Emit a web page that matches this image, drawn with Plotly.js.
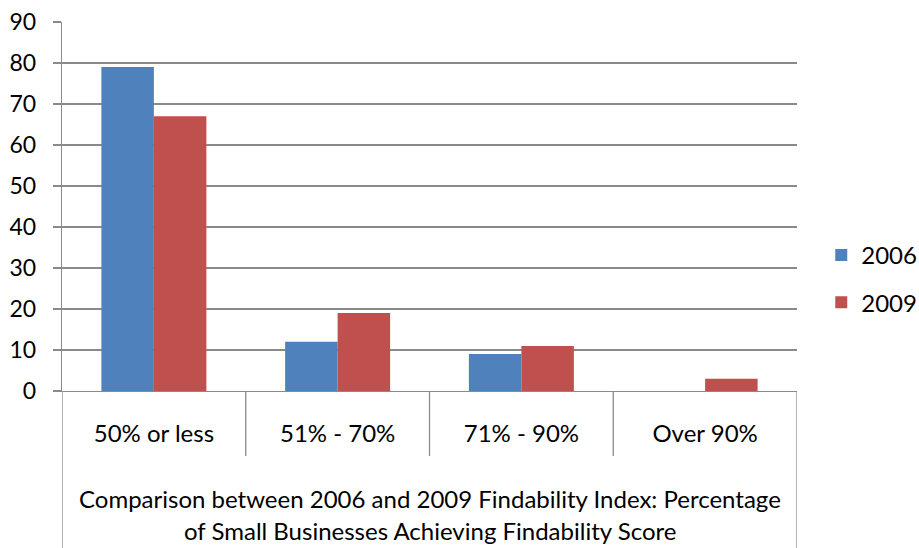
<!DOCTYPE html>
<html>
<head>
<meta charset="utf-8">
<script src="https://cdn.plot.ly/plotly-3.0.1.min.js"></script>
<style>html,body{margin:0;padding:0;background:#fff}#chart{width:919px;height:548px}</style>
</head>
<body>
<div id="chart"></div>
<script>
var categories = ["50% or less", "51% - 70%", "71% - 90%", "Over 90%"];
var seriesNames = ["2006", "2009"];
var values2006 = [79, 12, 9, 0];
var values2009 = [67, 19, 11, 3];
var yTicks = [0, 10, 20, 30, 40, 50, 60, 70, 80, 90];
var groupTitleLine1 = "Comparison between 2006 and 2009 Findability Index: Percentage";
var groupTitleLine2 = "of Small Businesses Achieving Findability Score";

var FONT = "Lato, 'Liberation Sans', sans-serif";
var GRID = "#8a8a8a";

var traces = [
  {type: "bar", name: seriesNames[0], x: categories, y: values2006,
   marker: {color: "#4F81BD"}, legendgroup: "a", hoverinfo: "none"},
  {type: "bar", name: seriesNames[1], x: categories, y: values2009,
   marker: {color: "#C0504D"}, legendgroup: "b", hoverinfo: "none"}
];

var shapes = [];
for (var i = 0; i <= categories.length; i++) {
  var outer = (i === 0 || i === categories.length);
  shapes.push({type: "line", xref: "x", yref: "paper",
    x0: i - 0.5, x1: i - 0.5, y0: 0, y1: outer ? -0.43 : -0.176,
    line: {color: GRID, width: 1.3}});
}

var layout = {
  width: 919, height: 548,
  margin: {l: 62, r: 122, t: 22, b: 157, autoexpand: false},
  paper_bgcolor: "#fff", plot_bgcolor: "#fff",
  font: {family: FONT, size: 24, color: "#000"},
  barmode: "group", bargap: 0.4286, bargroupgap: 0,
  showlegend: true,
  legend: {x: 1.033, xanchor: "left", y: 0.3035, yanchor: "middle",
    font: {family: FONT, size: 24, color: "#000"},
    traceorder: "grouped", tracegroupgap: 13, bgcolor: "rgba(0,0,0,0)"},
  xaxis: {type: "category", showgrid: false, zeroline: false, automargin: false,
    showline: true, linecolor: GRID, linewidth: 1.3,
    ticks: "", ticklabelstandoff: 21,
    tickfont: {family: FONT, size: 24, color: "#000"},
    range: [-0.5, categories.length - 0.5], fixedrange: true},
  yaxis: {range: [0, 90], tickvals: yTicks, showgrid: true, gridcolor: GRID, gridwidth: 1.3,
    zeroline: false, showline: true, linecolor: GRID, linewidth: 1.3, automargin: false,
    ticks: "outside", ticklen: 8, tickcolor: GRID, tickwidth: 1.3,
    ticklabelstandoff: 12,
    tickfont: {family: FONT, size: 23, color: "#000"}, fixedrange: true},
  shapes: shapes,
  annotations: [
    {text: groupTitleLine1, xref: "paper", yref: "paper", x: 0.5, y: -0.290,
     xanchor: "center", yanchor: "middle", showarrow: false,
     font: {family: FONT, size: 24, color: "#000"}},
    {text: groupTitleLine2, xref: "paper", yref: "paper", x: 0.5, y: -0.377,
     xanchor: "center", yanchor: "middle", showarrow: false,
     font: {family: FONT, size: 24, color: "#000"}}
  ]
};

Plotly.newPlot("chart", traces, layout, {staticPlot: true, displayModeBar: false});
</script>
</body>
</html>
